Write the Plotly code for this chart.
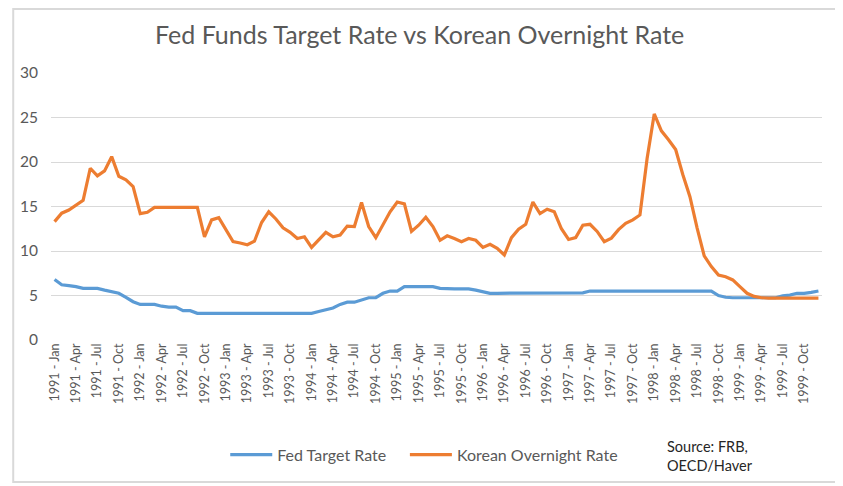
import plotly.graph_objects as go

# monthly data, 1991 Jan .. 1999 Dec
years = ["1991", "1992", "1993", "1994", "1995", "1996", "1997", "1998", "1999"]
months = ["Jan", "Feb", "Mar", "Apr", "May", "Jun", "Jul", "Aug", "Sep", "Oct", "Nov", "Dec"]

fed_target = [
    6.8, 6.2, 6.1, 6.0, 5.8, 5.8, 5.8, 5.6, 5.4, 5.25, 4.8, 4.3,      # 1991
    4.0, 4.0, 4.0, 3.8, 3.7, 3.7, 3.3, 3.3, 3.0, 3.0, 3.0, 3.0,       # 1992
    3.0, 3.0, 3.0, 3.0, 3.0, 3.0, 3.0, 3.0, 3.0, 3.0, 3.0, 3.0,       # 1993
    3.0, 3.2, 3.4, 3.6, 4.0, 4.25, 4.25, 4.5, 4.75, 4.75, 5.25, 5.5,  # 1994
    5.5, 6.0, 6.0, 6.0, 6.0, 6.0, 5.8, 5.75, 5.75, 5.75, 5.75, 5.6,   # 1995
    5.4, 5.25, 5.25, 5.25, 5.25, 5.25, 5.25, 5.25, 5.25, 5.25, 5.25, 5.25,  # 1996
    5.25, 5.25, 5.3, 5.5, 5.5, 5.5, 5.5, 5.5, 5.5, 5.5, 5.5, 5.5,     # 1997
    5.5, 5.5, 5.5, 5.5, 5.5, 5.5, 5.5, 5.5, 5.5, 5.0, 4.8, 4.75,      # 1998
    4.75, 4.75, 4.75, 4.75, 4.75, 4.75, 4.95, 5.05, 5.25, 5.25, 5.35, 5.5,  # 1999
]

korean_overnight = [
    13.3, 14.25, 14.6, 15.2, 15.7, 19.3, 18.45, 19.0, 20.6, 18.4, 18.0, 17.25,   # 1991
    14.2, 14.35, 14.9, 14.9, 14.9, 14.9, 14.95, 14.95, 14.9, 11.6, 13.5, 13.75,  # 1992
    12.4, 11.05, 10.9, 10.7, 11.1, 13.2, 14.4, 13.6, 12.6, 12.1, 11.4, 11.6,     # 1993
    10.4, 11.25, 12.1, 11.6, 11.8, 12.8, 12.75, 15.45, 12.75, 11.5, 12.9, 14.4,  # 1994
    15.5, 15.3, 12.2, 12.9, 13.8, 12.75, 11.2, 11.7, 11.4, 11.05, 11.4, 11.2,    # 1995
    10.4, 10.75, 10.3, 9.55, 11.5, 12.45, 13.0, 15.5, 14.2, 14.7, 14.4, 12.5,    # 1996
    11.3, 11.5, 12.9, 13.0, 12.2, 11.05, 11.45, 12.4, 13.1, 13.5, 14.05, 20.4,   # 1997
    25.4, 23.5, 22.5, 21.4, 18.6, 16.1, 12.6, 9.45, 8.25, 7.3, 7.1, 6.75,        # 1998
    6.0, 5.25, 4.9, 4.75, 4.7, 4.7, 4.7, 4.7, 4.7, 4.7, 4.7, 4.7,                # 1999
]

month_labels = [f"{y} - {m}" for y in years for m in months]
x_idx = list(range(len(month_labels)))

# category ticks every quarter
tick_vals = x_idx[::3]
tick_text = month_labels[::3]

FONT = "Lato"
TXT = "#595959"

fig = go.Figure()
fig.add_trace(go.Scatter(x=x_idx, y=fed_target, mode="lines", name="Fed Target Rate",
                         line=dict(color="#5B9BD5", width=3.2), legend="legend"))
fig.add_trace(go.Scatter(x=x_idx, y=korean_overnight, mode="lines", name="Korean Overnight Rate",
                         line=dict(color="#ED7D31", width=3.2), legend="legend2"))

# two legends so the gap between the items can match the original
leg_common = dict(orientation="h", xanchor="left", y=-0.43, yanchor="middle", itemwidth=42,
                  font=dict(size=16, color=TXT), bgcolor="rgba(0,0,0,0)")

# page body has an 8px margin, so the figure is 8px smaller and shifted
fig.update_layout(
    width=835, height=478,
    margin=dict(l=39, r=21, t=65, b=146),
    paper_bgcolor="white", plot_bgcolor="white",
    font=dict(family=FONT, color=TXT),
    title=dict(text="Fed Funds Target Rate vs Korean Overnight Rate",
               x=0.493, xanchor="center", y=0.944, yanchor="middle",
               font=dict(size=25, color=TXT)),
    showlegend=True,
    legend=dict(x=0.226, **leg_common),
    legend2=dict(x=0.459, **leg_common),
    annotations=[dict(text="Source: FRB,<br>OECD/Haver", xref="paper", yref="paper",
                      x=0.797, y=-0.435, xanchor="left", yanchor="middle", align="left",
                      showarrow=False, font=dict(size=14.5, color="#262626"))],
    shapes=[dict(type="rect", xref="paper", yref="paper",
                 x0=-0.049, x1=1.0206, y0=-0.532, y1=1.2397,
                 line=dict(color="#d9d9d9", width=2), layer="below")],
)

fig.update_xaxes(range=[-0.5, 107.5], tickmode="array", tickvals=tick_vals, ticktext=tick_text,
                 tickangle=-90, showgrid=False, zeroline=False, showline=False, ticks="",
                 tickfont=dict(size=12.5, color=TXT))
fig.update_yaxes(range=[0, 30], dtick=5, showgrid=True, gridcolor="#d9d9d9", gridwidth=1,
                 zeroline=False, showline=False, ticks="", ticklabelstandoff=12,
                 tickfont=dict(size=15.5, color=TXT))

fig.write_html("out.html")
